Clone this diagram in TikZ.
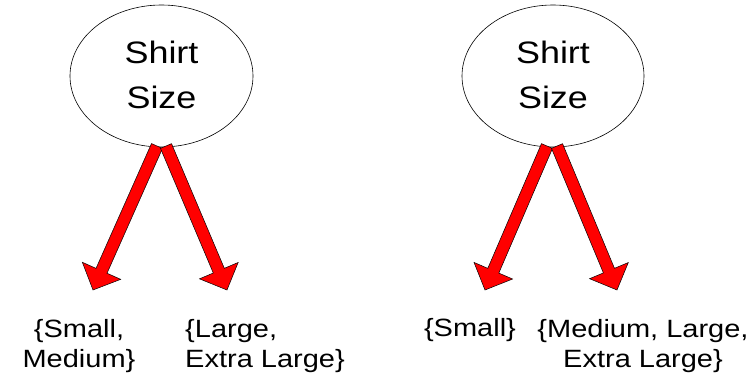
\documentclass[tikz,border=0pt]{standalone}
\usepackage{fontspec}
\setmainfont[FakeStretch=1.16]{Liberation Sans}
\usetikzlibrary{calc}
\tikzset{
  ellbox/.style={draw=black, line width=0.6pt, fill=white},
  bigtxt/.style={font=\fontsize{31}{45}\selectfont, align=center, inner sep=0pt},
  lbl/.style={font=\fontsize{25}{30}\selectfont, inner sep=0pt},
  blk/.style={fill=red, draw=black, line width=0.5pt, line join=miter}
}
\newcommand\blockarrow[2]{%
  \coordinate (hb) at ($(#2)!21pt!(#1)$);
  \draw[blk] ($(#1)!6pt!90:(#2)$) -- ($(hb)!6pt!90:(#2)$) -- ($(hb)!21pt!90:(#2)$) -- (#2)
    -- ($(hb)!21pt!-90:(#2)$) -- ($(hb)!6pt!-90:(#2)$) -- ($(#1)!6pt!-90:(#2)$) -- cycle;
}
\begin{document}
\begin{tikzpicture}[x=1pt,y=-1pt]
\useasboundingbox (0,0) rectangle (753,382);
% left group
\draw[ellbox] (161.5,76) ellipse [x radius=91.5, y radius=71];
\node[bigtxt, anchor=base] (s1) at (161.5,109) {Shirt\\Size};
\coordinate (la1) at (157,146);
\coordinate (la2) at (93,290);
\coordinate (lb1) at (166,146);
\coordinate (lb2) at (227,290);
\blockarrow{la1}{la2}
\blockarrow{lb1}{lb2}
\node[lbl, anchor=base, align=center] (t1) at (79,367) {\{Small,\\Medium\}};
\node[lbl, anchor=base west, align=left] (t2) at (185,367) {\{Large,\\Extra Large\}};
% right group
\draw[ellbox] (553,76) ellipse [x radius=91, y radius=71];
\node[bigtxt, anchor=base] (s2) at (553,109) {Shirt\\Size};
\coordinate (ra1) at (547,146);
\coordinate (ra2) at (485,290);
\coordinate (rb1) at (557,146);
\coordinate (rb2) at (617,290);
\blockarrow{ra1}{ra2}
\blockarrow{rb1}{rb2}
\node[lbl, anchor=base] (t3) at (470,337) {\{Small\}};
\node[lbl, anchor=base, align=center] (t4) at (643,367) {\{Medium, Large,\\Extra Large\}};
\end{tikzpicture}
\end{document}
